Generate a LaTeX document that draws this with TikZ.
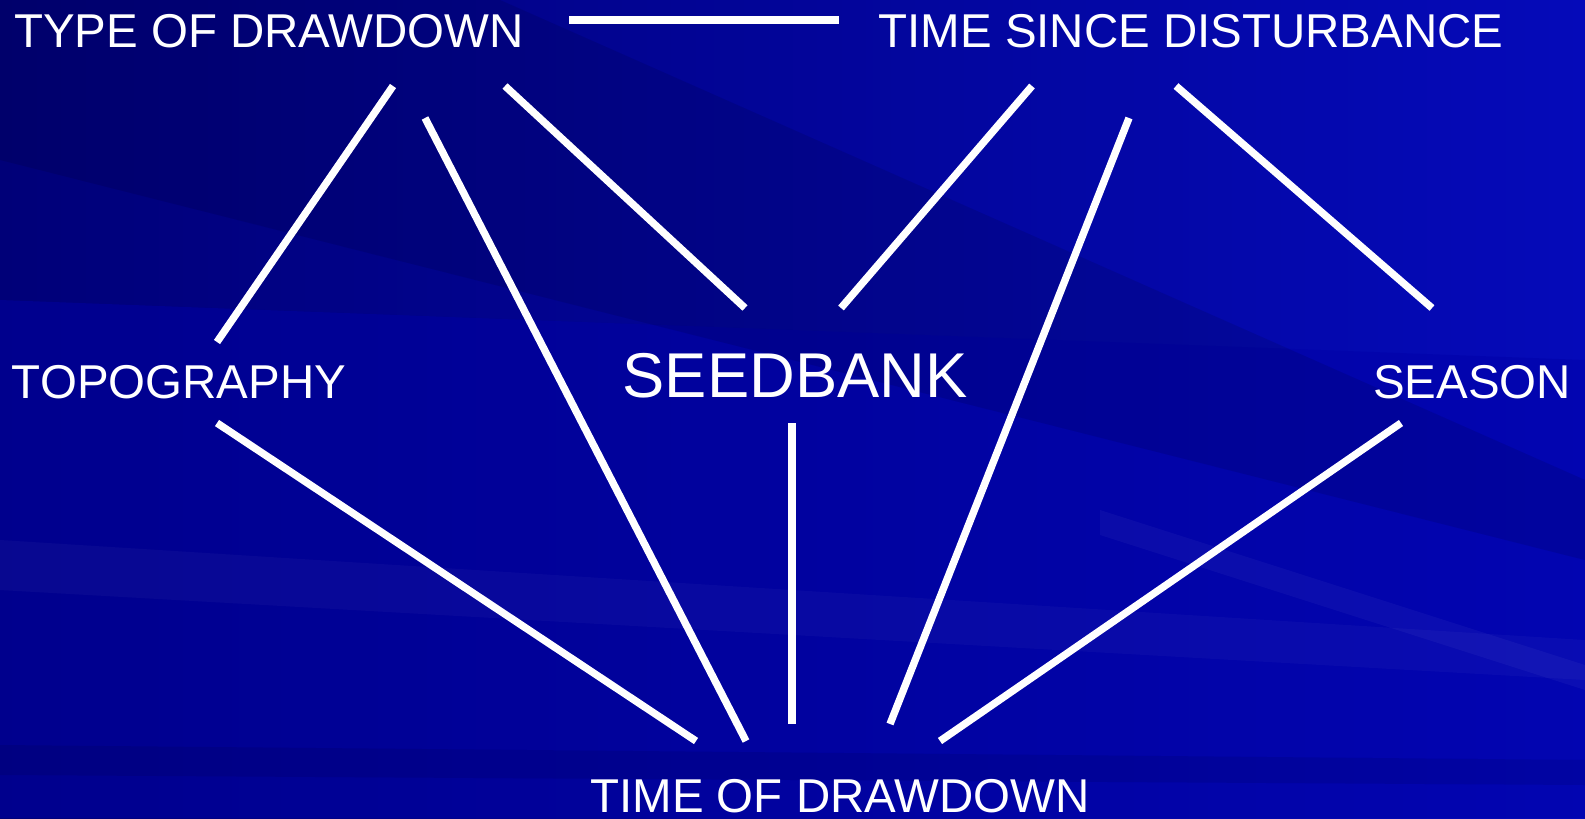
\documentclass[tikz,border=0pt]{standalone}
\usepackage{fontspec}
\setmainfont{Liberation Sans}
\definecolor{bgdark}{RGB}{0,0,120}
\definecolor{bgmid}{RGB}{0,0,168}
\definecolor{bglight}{RGB}{5,10,185}
\begin{document}
\begin{tikzpicture}[x=0.01cm, y=-0.01cm,
  lbl/.style={text=white, inner sep=0pt, font=\fontsize{13.5}{16}\selectfont},
  link/.style={draw=white, line width=2.1pt}]
% background and streaks
\shade[left color=bgdark, right color=bglight] (0,0) rectangle (1585,818);
\fill[bgmid, opacity=0.45] (0,300) -- (1585,360) -- (1585,818) -- (0,818) -- cycle;
\fill[black, opacity=0.1] (0,0) -- (500,0) -- (1585,480) -- (1585,560) -- (0,160) -- cycle;
\fill[white, opacity=0.03] (0,540) -- (1585,640) -- (1585,680) -- (0,590) -- cycle;
\fill[white, opacity=0.04] (1100,510) -- (1585,665) -- (1585,690) -- (1100,535) -- cycle;
\fill[black, opacity=0.08] (0,745) -- (1585,760) -- (1585,785) -- (0,775) -- cycle;
% labels
\node[lbl] (type) at (269,31) {TYPE OF DRAWDOWN};
\node[lbl] (since) at (1191,31) {TIME SINCE DISTURBANCE};
\node[lbl] (topo) at (179,382) {TOPOGRAPHY};
\node[lbl, font=\fontsize{18}{21}\selectfont] (seed) at (795,376) {SEEDBANK};
\node[lbl] (season) at (1472,382) {SEASON};
\node[lbl] (timeof) at (840,796) {TIME OF DRAWDOWN};
% end points of the links
\coordinate (typeR) at (569,20);  \coordinate (sinceL) at (839,20);
\coordinate (type1) at (393,86);  \coordinate (topoN) at (217,342);
\coordinate (type2) at (425,118); \coordinate (timeA) at (746,741);
\coordinate (type3) at (505,86);  \coordinate (seedW) at (745,308);
\coordinate (since1) at (1032,86); \coordinate (seedE) at (841,308);
\coordinate (since2) at (1129,118); \coordinate (timeB) at (890,724);
\coordinate (since3) at (1176,86); \coordinate (seasonN) at (1432,308);
\coordinate (topoS) at (217,423); \coordinate (timeC) at (696,741);
\coordinate (seedS) at (792,423); \coordinate (timeD) at (792,724);
\coordinate (seasonS) at (1401,423); \coordinate (timeE) at (940,741);
% links
\draw[link] (typeR) -- (sinceL);
\draw[link] (type1) -- (topoN);
\draw[link] (type2) -- (timeA);
\draw[link] (type3) -- (seedW);
\draw[link] (since1) -- (seedE);
\draw[link] (since2) -- (timeB);
\draw[link] (since3) -- (seasonN);
\draw[link] (topoS) -- (timeC);
\draw[link] (seedS) -- (timeD);
\draw[link] (seasonS) -- (timeE);
\end{tikzpicture}
\end{document}
